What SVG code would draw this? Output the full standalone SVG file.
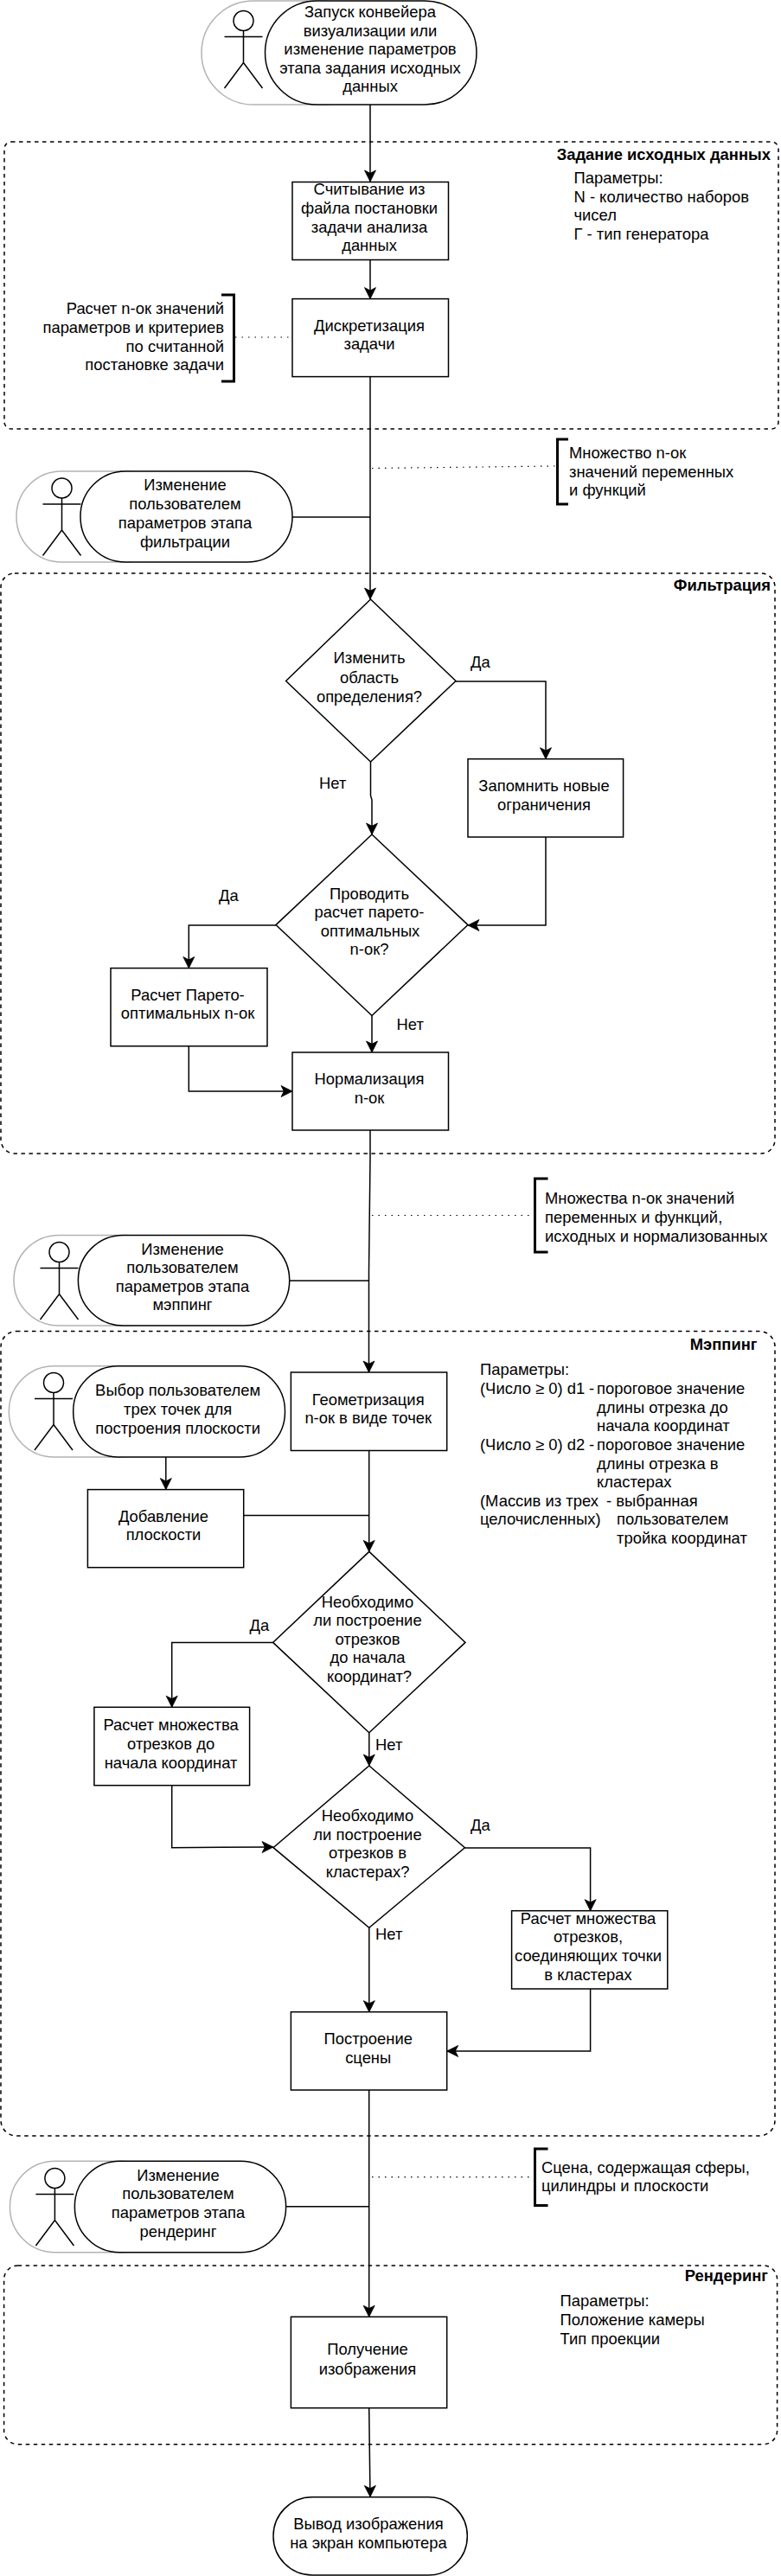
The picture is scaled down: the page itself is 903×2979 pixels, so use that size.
<svg xmlns="http://www.w3.org/2000/svg" width="903" height="2979" viewBox="0 0 903 2979">
<style>
text{font-family:"Liberation Sans",Arial,sans-serif;font-size:18.4px;fill:#000}
.m{text-anchor:middle}.e{text-anchor:end}.b{font-weight:700}
.box,.dia,.pill{fill:#fff;stroke:#000;stroke-width:1.5}
.gray{fill:#fff;stroke:#b3b3b3;stroke-width:1.5}
.act{fill:#fff;stroke:#000;stroke-width:1.5}
.zone{fill:none;stroke:#000;stroke-width:1.5;stroke-dasharray:4.5 4.5}
.brk{fill:none;stroke:#000;stroke-width:3}
.dot{fill:none;stroke:#000;stroke-width:1.2;stroke-dasharray:1.5 6}
.con{fill:none;stroke:#000;stroke-width:1.5}
.arr{marker-end:url(#ah)}
</style>
<defs>
<marker id="ah" markerUnits="userSpaceOnUse" markerWidth="16" markerHeight="16" refX="13" refY="7" orient="auto" overflow="visible"><path d="M0 .5L13 7L0 13.5L3.3 7Z" fill="#000" stroke="#000" stroke-width=".8"/></marker>
<g id="actor"><circle cx="0" cy="0" r="11.5" class="act"/><path class="con" d="M0 11.5V48.5M-22 18.5H22M-22 78L0 48.5L22 78"/></g>
</defs>
<rect width="903" height="2979" fill="#fff"/>
<g id="zones">
<rect id="zone-input" class="zone" x="5" y="164" width="895" height="332" rx="8"/>
<rect id="zone-filter" class="zone" x="1" y="663" width="895" height="671" rx="16"/>
<rect id="zone-mapping" class="zone" x="1" y="1539.5" width="895" height="930.5" rx="18"/>
<rect id="zone-render" class="zone" x="4.6" y="2620" width="894" height="206.7" rx="16"/>
</g>
<g id="connectors">
<path class="con arr" d="M428 121V210"/>
<path class="con arr" d="M428 300.6V345.6"/>
<path class="con arr" d="M428 435.7V693"/>
<path class="con" d="M338 598H428"/>
<path class="con arr" d="M527 788H631V877.7"/>
<path class="con arr" d="M428.5 881V920L430 925V965"/>
<path class="con arr" d="M631 968V1070H541"/>
<path class="con arr" d="M319 1070H218.3V1119.6"/>
<path class="con arr" d="M430 1174.5V1217"/>
<path class="con arr" d="M218.3 1209.8V1262H338"/>
<path class="con arr" d="M428 1307V1340L426.5 1470V1587"/>
<path class="con" d="M334.7 1481H427"/>
<path class="con arr" d="M191.8 1685V1722.6"/>
<path class="con" d="M281.7 1752.5H426.7"/>
<path class="con arr" d="M426.7 1677.5V1794.4"/>
<path class="con arr" d="M315.6 1899.4H198.7V1974.3"/>
<path class="con arr" d="M426.8 2003.8V2042"/>
<path class="con arr" d="M198.7 2064.7V2136.7L316 2136"/>
<path class="con arr" d="M537.4 2137H682.6V2209.7"/>
<path class="con arr" d="M426.8 2229.3V2326.7"/>
<path class="con arr" d="M682.6 2300V2372H516.7"/>
<path class="con arr" d="M426.7 2417V2679.3"/>
<path class="con" d="M330.6 2551.7H426.7"/>
<path class="con arr" d="M426.7 2784.7L428 2887.5"/>
<path class="dot" d="M272 390H336"/>
<path class="dot" d="M430 541.5L642 539"/>
<path class="dot" d="M430 1405.5H617"/>
<path class="dot" d="M430 2517.7H613"/>
</g>
<g id="zone-labels">
<text class="e b" x="891" y="185">Задание исходных данных</text>
<text x="663.5" y="212">Параметры:</text><text x="663.5" y="233.5">N - количество наборов</text><text x="663.5" y="255">чисел</text><text x="663.5" y="277">Г - тип генератора</text>
<text class="e b" x="891" y="683">Фильтрация</text>
<text class="e b" x="875.5" y="1561">Мэппинг</text>
<text x="555" y="1590">Параметры:</text>
<text y="1611.5"><tspan x="555">(Число ≥ 0) d1 </tspan><tspan x="681">- </tspan><tspan x="690">пороговое значение</tspan></text>
<text x="690" y="1633.5">длины отрезка до</text><text x="690" y="1655">начала координат</text>
<text y="1677"><tspan x="555">(Число ≥ 0) d2 </tspan><tspan x="681">- </tspan><tspan x="690">пороговое значение</tspan></text>
<text x="690" y="1698.5">длины отрезка в</text><text x="690" y="1719.5">кластерах</text>
<text x="555" y="1742">(Массив из трех</text><text x="701" y="1742">- выбранная</text>
<text x="555" y="1763">целочисленных)</text><text x="713" y="1763">пользователем</text>
<text x="713" y="1785">тройка координат</text>
<text class="e b" x="888" y="2638">Рендеринг</text>
<text x="647.5" y="2666.7">Параметры:</text><text x="647.5" y="2688.7">Положение камеры</text><text x="647.5" y="2710.7">Тип проекции</text>
</g>
<g id="edge-labels">
<text x="544" y="771.5">Да</text><text x="369" y="912">Нет</text><text x="253" y="1041.5">Да</text><text x="458.5" y="1191">Нет</text>
<text x="288.6" y="1886">Да</text><text x="434" y="2024">Нет</text><text x="544" y="2117">Да</text><text x="434" y="2243">Нет</text>
</g>
<g id="start">
<rect class="gray" x="233" y="1" width="200" height="120" rx="60"/>
<rect class="pill" x="306.5" y="1" width="244.5" height="120" rx="60"/>
<use href="#actor" x="281.5" y="24"/>
<text class="m" x="428" y="20">Запуск конвейера</text><text class="m" x="428" y="41.5">визуализации или</text><text class="m" x="428" y="63">изменение параметров</text><text class="m" x="428" y="85">этапа задания исходных</text><text class="m" x="428" y="106">данных</text>
</g>
<g id="read-file">
<rect class="box" x="338" y="210.5" width="180.5" height="90"/>
<text class="m" x="427" y="225">Считывание из</text><text class="m" x="427" y="247">файла постановки</text><text class="m" x="427" y="269">задачи анализа</text><text class="m" x="427" y="290">данных</text>
</g>
<g id="discretize">
<rect class="box" x="338" y="345.6" width="180.5" height="90"/>
<text class="m" x="427" y="383">Дискретизация</text><text class="m" x="427" y="404">задачи</text>
</g>
<g id="note-calc">
<path class="brk" d="M256 341H270.5V441H256"/>
<text class="e" x="259" y="363">Расчет n-ок значений</text><text class="e" x="259" y="385">параметров и критериев</text><text class="e" x="259" y="407">по считанной</text><text class="e" x="259" y="428">постановке задачи</text>
</g>
<g id="note-tuples">
<path class="brk" d="M657 508H644.5V583H657"/>
<text x="658" y="530">Множество n-ок</text><text x="658" y="551.5">значений переменных</text><text x="658" y="573">и функций</text>
</g>
<g id="user-filter">
<rect class="gray" x="19" y="545" width="180" height="105" rx="52"/>
<rect class="pill" x="93" y="545" width="245" height="105" rx="52"/>
<use href="#actor" x="71.5" y="564.5"/>
<text class="m" x="214" y="567">Изменение</text><text class="m" x="214" y="589">пользователем</text><text class="m" x="214" y="611">параметров этапа</text><text class="m" x="214" y="633">фильтрации</text>
</g>
<g id="q-domain">
<path class="dia" d="M428.5 693L527 787.5L428.5 881L330.6 787.5Z"/>
<text class="m" x="427" y="767">Изменить</text><text class="m" x="427" y="790">область</text><text class="m" x="427" y="811.5">определения?</text>
</g>
<g id="remember">
<rect class="box" x="541" y="877.7" width="179.6" height="90.3"/>
<text class="m" x="629" y="915">Запомнить новые</text><text class="m" x="629" y="937">ограничения</text>
</g>
<g id="q-pareto">
<path class="dia" d="M430 965L541 1069.6L430 1174.5L319 1069.6Z"/>
<text class="m" x="427" y="1040">Проводить</text><text class="m" x="427" y="1061">расчет парето-</text><text class="m" x="428" y="1083">оптимальных</text><text class="m" x="427" y="1104">n-ок?</text>
</g>
<g id="calc-pareto">
<rect class="box" x="128" y="1119.6" width="181" height="90.2"/>
<text class="m" x="217" y="1156.7">Расчет Парето-</text><text class="m" x="217" y="1178">оптимальных n-ок</text>
</g>
<g id="normalize">
<rect class="box" x="338" y="1217" width="180.5" height="90"/>
<text class="m" x="427" y="1254">Нормализация</text><text class="m" x="427" y="1276">n-ок</text>
</g>
<g id="note-sets">
<path class="brk" d="M633.5 1363H618.5V1448H633.5"/>
<text x="630" y="1392">Множества n-ок значений</text><text x="630" y="1413.6">переменных и функций,</text><text x="630" y="1436">исходных и нормализованных</text>
</g>
<g id="user-mapping">
<rect class="gray" x="16" y="1428.4" width="180" height="104.6" rx="52"/>
<rect class="pill" x="90.4" y="1428.4" width="244.3" height="104.6" rx="52"/>
<use href="#actor" x="68.5" y="1448"/>
<text class="m" x="211" y="1450.7">Изменение</text><text class="m" x="211" y="1472">пользователем</text><text class="m" x="211" y="1494">параметров этапа</text><text class="m" x="211" y="1515">мэппинг</text>
</g>
<g id="geometrize">
<rect class="box" x="336.4" y="1587" width="180.3" height="90.5"/>
<text class="m" x="425.7" y="1625">Геометризация</text><text class="m" x="425.7" y="1646">n-ок в виде точек</text>
</g>
<g id="user-plane">
<rect class="gray" x="10.4" y="1579.7" width="180" height="105.3" rx="52"/>
<rect class="pill" x="84.7" y="1579.7" width="244.8" height="105.3" rx="52"/>
<use href="#actor" x="62" y="1599"/>
<text class="m" x="205.6" y="1613.6">Выбор пользователем</text><text class="m" x="205.6" y="1636">трех точек для</text><text class="m" x="205.6" y="1658">построения плоскости</text>
</g>
<g id="add-plane">
<rect class="box" x="101.4" y="1722.6" width="180.3" height="90.1"/>
<text class="m" x="189" y="1760">Добавление</text><text class="m" x="189" y="1781">плоскости</text>
</g>
<g id="q-origin">
<path class="dia" d="M426.8 1794.4L538 1899.4L426.8 2003.8L315.6 1899.4Z"/>
<text class="m" x="425" y="1858.7">Необходимо</text><text class="m" x="425" y="1880">ли построение</text><text class="m" x="425" y="1901.6">отрезков</text><text class="m" x="425" y="1923.4">до начала</text><text class="m" x="427" y="1945">координат?</text>
</g>
<g id="calc-origin">
<rect class="box" x="108.9" y="1974.3" width="179.7" height="90.4"/>
<text class="m" x="197.6" y="2000.7">Расчет множества</text><text class="m" x="197.6" y="2023.4">отрезков до</text><text class="m" x="197.6" y="2045">начала координат</text>
</g>
<g id="q-clusters">
<path class="dia" d="M426.8 2042L537.4 2136.7L426.8 2229.3L316 2136.7Z"/>
<text class="m" x="425" y="2106">Необходимо</text><text class="m" x="425" y="2128">ли построение</text><text class="m" x="425" y="2149">отрезков в</text><text class="m" x="425" y="2171">кластерах?</text>
</g>
<g id="calc-clusters">
<rect class="box" x="591.6" y="2209.7" width="180.2" height="90.3"/>
<text class="m" x="680" y="2224.7">Расчет множества</text><text class="m" x="680" y="2245.7">отрезков,</text><text class="m" x="680" y="2267.7">соединяющих точки</text><text class="m" x="680" y="2289.7">в кластерах</text>
</g>
<g id="build-scene">
<rect class="box" x="336.4" y="2326.7" width="180.3" height="90.3"/>
<text class="m" x="425.7" y="2364">Построение</text><text class="m" x="425.7" y="2385.7">сцены</text>
</g>
<g id="note-scene">
<path class="brk" d="M633.5 2485H618.5V2550.5H633.5"/>
<text x="626" y="2512.7">Сцена, содержащая сферы,</text><text x="626" y="2534">цилиндры и плоскости</text>
</g>
<g id="user-render">
<rect class="gray" x="11.5" y="2499.3" width="180" height="105.4" rx="52"/>
<rect class="pill" x="86.4" y="2499.3" width="244.2" height="105.4" rx="52"/>
<use href="#actor" x="63.4" y="2519"/>
<text class="m" x="206" y="2521.7">Изменение</text><text class="m" x="206" y="2542.7">пользователем</text><text class="m" x="206" y="2564.7">параметров этапа</text><text class="m" x="206" y="2586.7">рендеринг</text>
</g>
<g id="get-image">
<rect class="box" x="336.4" y="2679.3" width="180.3" height="105.4"/>
<text class="m" x="425" y="2723">Получение</text><text class="m" x="425" y="2745.7">изображения</text>
</g>
<g id="output">
<rect class="pill" x="316" y="2887.7" width="224.3" height="90.3" rx="45"/>
<text class="m" x="426" y="2925">Вывод изображения</text><text class="m" x="426" y="2946.7">на экран компьютера</text>
</g>
</svg>
